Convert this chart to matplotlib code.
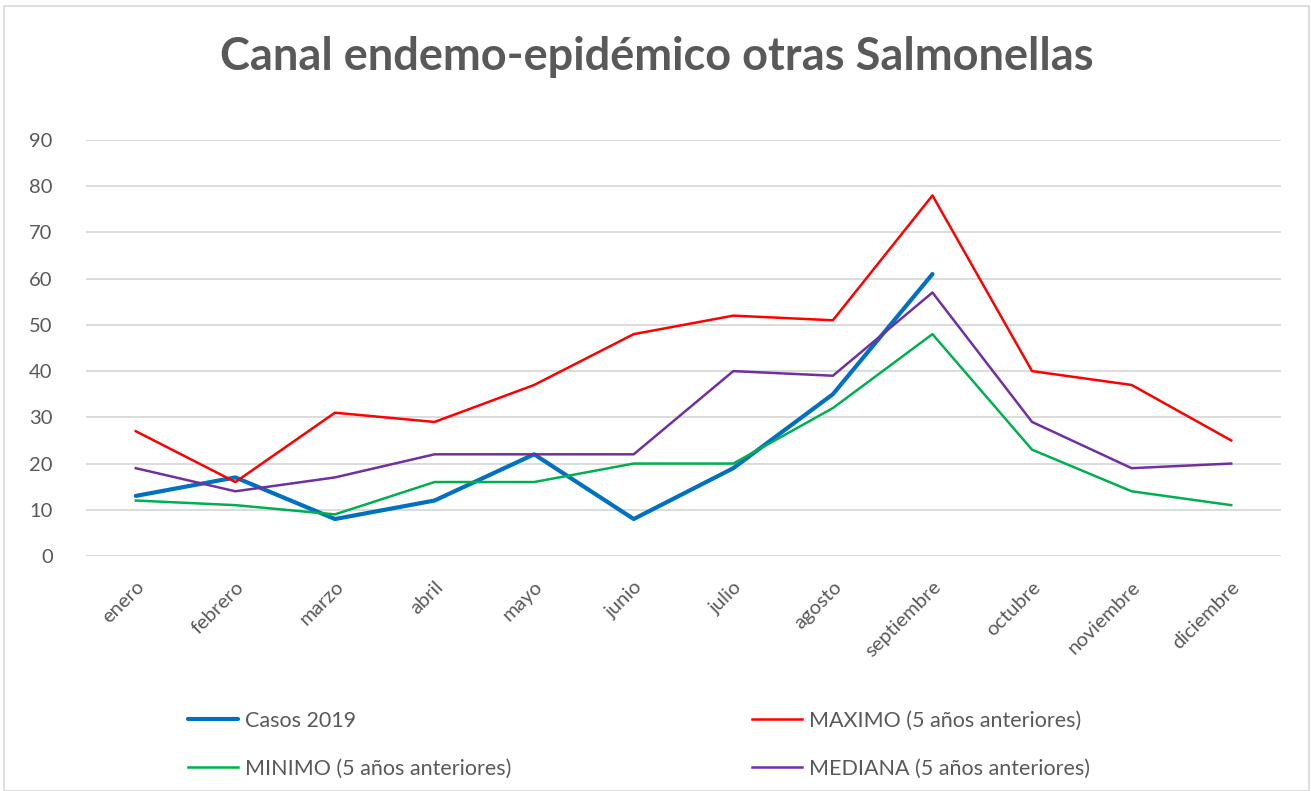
import matplotlib
matplotlib.use("Agg")
import matplotlib.pyplot as plt
from matplotlib.patches import Rectangle

months = ["enero", "febrero", "marzo", "abril", "mayo", "junio", "julio",
          "agosto", "septiembre", "octubre", "noviembre", "diciembre"]
casos_2019 = [13, 17, 8, 12, 22, 8, 19, 35, 61]
maximo = [27, 16, 31, 29, 37, 48, 52, 51, 78, 40, 37, 25]
minimo = [12, 11, 9, 16, 16, 20, 20, 32, 48, 23, 14, 11]
mediana = [19, 14, 17, 22, 22, 22, 40, 39, 57, 29, 19, 20]
y_ticks = [0, 10, 20, 30, 40, 50, 60, 70, 80, 90]

plt.rcParams['font.family'] = ['Lato', 'DejaVu Sans']
W, H = 1311, 791
fig = plt.figure(figsize=(W / 100, H / 100), dpi=100)
fig.patch.set_facecolor("white")
fig.add_artist(Rectangle((4 / W, 0), (1309 - 4) / W, 1 - 6 / H, transform=fig.transFigure,
                         fill=False, edgecolor="#d9d9d9", linewidth=1.2))

ax = fig.add_axes([86 / W, 1 - 556 / H, (1281 - 86) / W, (556 - 140) / H])
x = list(range(len(months)))
ax.plot(x[:len(casos_2019)], casos_2019, color="#0070C0", lw=3.0, label="Casos 2019", solid_capstyle="round")
ax.plot(x, maximo, color="#FF0000", lw=1.8, label="MAXIMO (5 años anteriores)")
ax.plot(x, minimo, color="#00B050", lw=1.8, label="MINIMO (5 años anteriores)")
ax.plot(x, mediana, color="#7030A0", lw=1.8, label="MEDIANA (5 años anteriores)")

ax.set_xlim(-0.5, len(months) - 0.5)
ax.set_ylim(0, 90)
ax.set_yticks(y_ticks)
ax.set_xticks(x)
ax.set_xticklabels(months, rotation=45, ha="right", rotation_mode="anchor")
ax.tick_params(axis="both", length=0, labelsize=14.5, labelcolor="#595959")
ax.tick_params(axis="y", pad=24)
ax.tick_params(axis="x", pad=16)
ax.grid(axis="y", color="#d9d9d9", lw=1.3)
ax.set_axisbelow(True)
for s in ax.spines.values():
    s.set_visible(False)

fig.text(657 / W, 1 - 57 / H, "Canal endemo-epidémico otras Salmonellas", ha="center", va="center",
         fontsize=32.5, fontweight="bold", color="#595959")

h, l = ax.get_legend_handles_labels()
order = [0, 2, 1, 3]
leg = fig.legend([h[i] for i in order], [l[i] for i in order], ncol=2, frameon=False,
                 loc="upper left", bbox_to_anchor=(188 / W, 1 - 711 / H),
                 borderaxespad=0, borderpad=0,
                 fontsize=15.5, handlelength=2.3, handletextpad=0.33, columnspacing=11.2,
                 labelspacing=1.3, labelcolor="#595959")
fig.savefig("out.png", dpi=100, facecolor="white")
